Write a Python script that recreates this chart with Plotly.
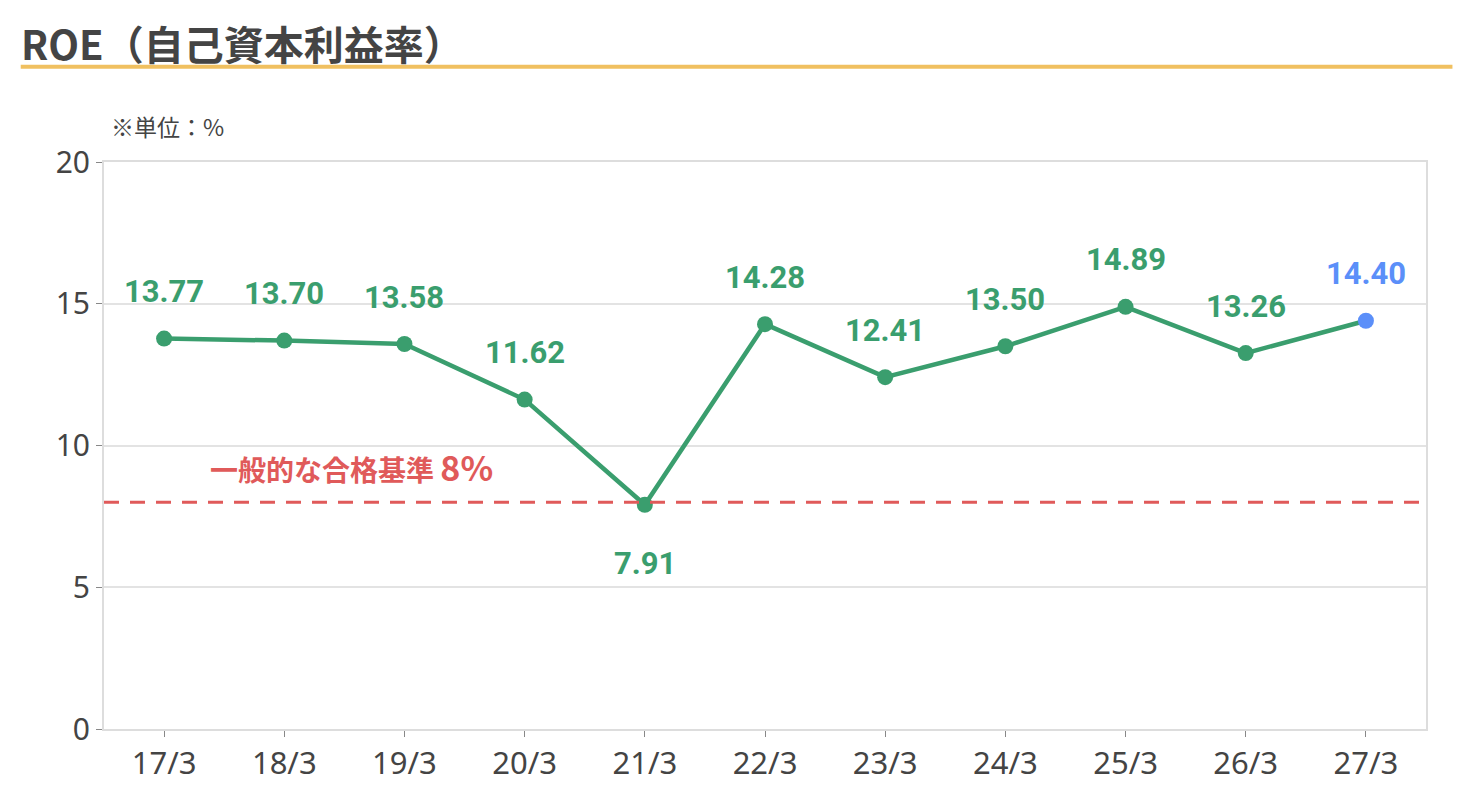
import plotly.graph_objects as go

# ROE data (%)
periods = ["17/3", "18/3", "19/3", "20/3", "21/3", "22/3", "23/3", "24/3", "25/3", "26/3", "27/3"]
roe = [13.77, 13.70, 13.58, 11.62, 7.91, 14.28, 12.41, 13.50, 14.89, 13.26, 14.40]
benchmark = 8
benchmark_label = "一般的な合格基準 <span style='font-size:34px'>8%</span>"
y_ticks = [0, 5, 10, 15, 20]

GREEN = "#3a9e6e"
BLUE = "#5b8ff9"
RED = "#e05a5a"
TEXT = "#444444"
FONT = "Noto Sans CJK JP"

fig = go.Figure()

# actual results, last point is the forecast shown in blue
colors = [GREEN] * (len(roe) - 1) + [BLUE]
fig.add_trace(go.Scatter(
    x=periods, y=roe, mode="lines+markers",
    line=dict(color=GREEN, width=4.5),
    marker=dict(color=colors, size=16),
    hoverinfo="x+y", showlegend=False,
))

# value labels
for i, (p, v) in enumerate(zip(periods, roe)):
    below = v < benchmark
    fig.add_annotation(
        x=p, y=v, text=f"{v:.2f}", showarrow=False,
        yshift=-59 if below else 47,
        font=dict(family="Roboto", size=31, color=colors[i], weight="bold"),
    )

# benchmark line
fig.add_hline(y=benchmark, line=dict(color=RED, width=3, dash="15px,11px"))
fig.add_annotation(
    x=1.56, y=benchmark, text=benchmark_label, showarrow=False, yshift=36,
    font=dict(family=FONT, size=28, color=RED, weight="bold"),
)

# title and underline
fig.add_annotation(
    xref="paper", yref="paper", x=-0.064, y=1.21, xanchor="left", yanchor="middle",
    text="ROE（自己資本利益率）", showarrow=False,
    font=dict(family=FONT, size=40, color=TEXT, weight="bold"),
)
fig.add_shape(
    type="line", xref="paper", yref="paper", x0=-0.063, x1=1.02, y0=1.168, y1=1.168,
    line=dict(color="#f0c060", width=4),
)
fig.add_annotation(
    xref="paper", yref="paper", x=0.004, y=1.063, xanchor="left", yanchor="middle",
    text="※単位：%", showarrow=False,
    font=dict(family=FONT, size=23, color=TEXT),
)

fig.update_layout(
    width=1470, height=810,
    margin=dict(l=96, r=52, t=154, b=89),
    plot_bgcolor="white", paper_bgcolor="white",
    font=dict(family=FONT, color=TEXT),
)
fig.update_xaxes(
    range=[-0.5, len(periods) - 0.5],
    showline=True, mirror=True, linecolor="#dddddd", linewidth=2,
    ticks="outside", ticklen=6, tickcolor="#888888",
    tickfont=dict(family="Noto Sans", size=31, color=TEXT), showgrid=False,
)
fig.update_yaxes(
    range=[0, 20], tickvals=y_ticks,
    showline=True, mirror=True, linecolor="#dddddd", linewidth=2,
    gridcolor="#e3e3e3", gridwidth=1.5, zeroline=False,
    ticks="outside", ticklen=6, tickcolor="#888888",
    tickfont=dict(family="Noto Sans", size=30, color=TEXT),
)

fig.write_html("out.html")
